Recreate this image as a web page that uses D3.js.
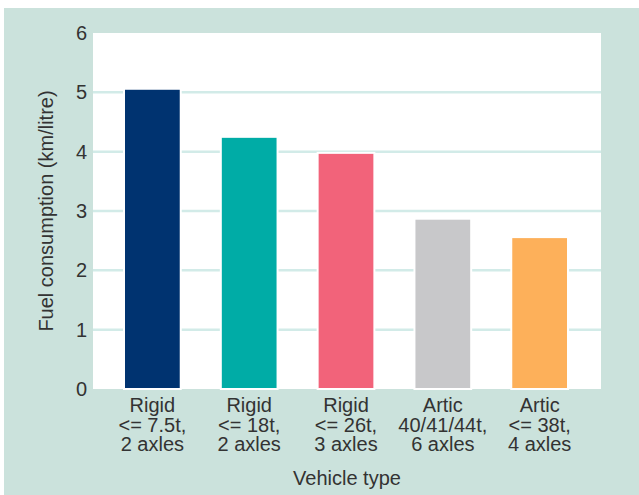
<!DOCTYPE html>
<html>
<head>
<meta charset="utf-8">
<script src="https://cdn.jsdelivr.net/npm/d3@7"></script>
<style>
  html, body { margin: 0; padding: 0; background: #ffffff; }
  svg { display: block; }
  text { font-family: "Liberation Sans", Arial, sans-serif; fill: #333333; }
</style>
</head>
<body>
<svg id="chart" width="639" height="495"></svg>
<script>
// Vehicle categories (multi-line labels) and fuel consumption in km/litre
const categories = [
  ["Rigid", "<= 7.5t,", "2 axles"],
  ["Rigid", "<= 18t,", "2 axles"],
  ["Rigid", "<= 26t,", "3 axles"],
  ["Artic", "40/41/44t,", "6 axles"],
  ["Artic", "<= 38t,", "4 axles"]
];
const values = [5.06, 4.25, 3.98, 2.87, 2.56];
const barColors = ["#003370", "#00aca6", "#f2637a", "#c8c8ca", "#fdb05a"];
const yTicks = [0, 1, 2, 3, 4, 5, 6];
const xTitle = "Vehicle type";
const yTitle = "Fuel consumption (km/litre)";

const FONT = '"Liberation Sans", Arial, sans-serif';
const svg = d3.select("#chart");

// panel background
svg.append("rect")
  .attr("x", 4).attr("y", 8)
  .attr("width", 635).attr("height", 487)
  .attr("fill", "#cbe2dc");

const plot = { left: 93, right: 601, top: 33, bottom: 389 };

svg.append("rect")
  .attr("x", plot.left).attr("y", plot.top)
  .attr("width", plot.right - plot.left)
  .attr("height", plot.bottom - plot.top)
  .attr("fill", "#ffffff");

const keys = categories.map((c, i) => i);
const x = d3.scaleBand()
  .domain(keys)
  .range([124, 568])
  .paddingInner(0.414)
  .paddingOuter(0);

const y = d3.scaleLinear()
  .domain([0, 6])
  .range([plot.bottom, plot.top]);

// horizontal gridlines
svg.append("g")
  .selectAll("line")
  .data(yTicks.filter(t => t > 0 && t < 6))
  .join("line")
  .attr("x1", plot.left).attr("x2", plot.right)
  .attr("y1", d => y(d)).attr("y2", d => y(d))
  .attr("stroke", "#d2ebe8")
  .attr("stroke-width", 2.5);

// bars with a thin white outline
svg.append("g")
  .selectAll("rect")
  .data(values)
  .join("rect")
  .attr("x", (d, i) => x(i))
  .attr("y", d => y(d))
  .attr("width", x.bandwidth())
  .attr("height", d => y(0) - y(d))
  .attr("fill", (d, i) => barColors[i])
  .attr("stroke", "#ffffff")
  .attr("stroke-width", 2);

// y axis tick labels
const yAxis = d3.axisLeft(y).tickValues(yTicks).tickSize(0).tickPadding(0)
  .tickFormat(d3.format("d"));
const gy = svg.append("g")
  .attr("transform", `translate(${plot.left - 6},0)`)
  .call(yAxis);
gy.select(".domain").remove();
gy.attr("font-size", null).attr("font-family", null);
gy.selectAll("text")
  .attr("font-size", 20)
  .attr("fill", "#333333")
  .style("font-family", FONT);

// x axis category labels
const xAxis = d3.axisBottom(x).tickSize(0).tickFormat(() => "");
const gx = svg.append("g")
  .attr("transform", `translate(0,${plot.bottom})`)
  .call(xAxis);
gx.select(".domain").remove();
gx.attr("font-size", null).attr("font-family", null);
gx.selectAll(".tick").each(function(d) {
  const t = d3.select(this).append("text")
    .attr("text-anchor", "middle")
    .attr("font-size", 20)
    .attr("fill", "#333333")
    .style("font-family", FONT);
  categories[d].forEach((line, j) => {
    t.append("tspan")
      .attr("x", 0)
      .attr("y", 23 + j * 19.7)
      .text(line);
  });
});

// axis titles
svg.append("text")
  .attr("x", (plot.left + plot.right) / 2)
  .attr("y", 485)
  .attr("text-anchor", "middle")
  .attr("font-size", 20)
  .style("font-family", FONT)
  .text(xTitle);

svg.append("text")
  .attr("transform", `translate(53,${(plot.top + plot.bottom) / 2}) rotate(-90)`)
  .attr("text-anchor", "middle")
  .attr("font-size", 20)
  .style("font-family", FONT)
  .text(yTitle);
</script>
</body>
</html>
